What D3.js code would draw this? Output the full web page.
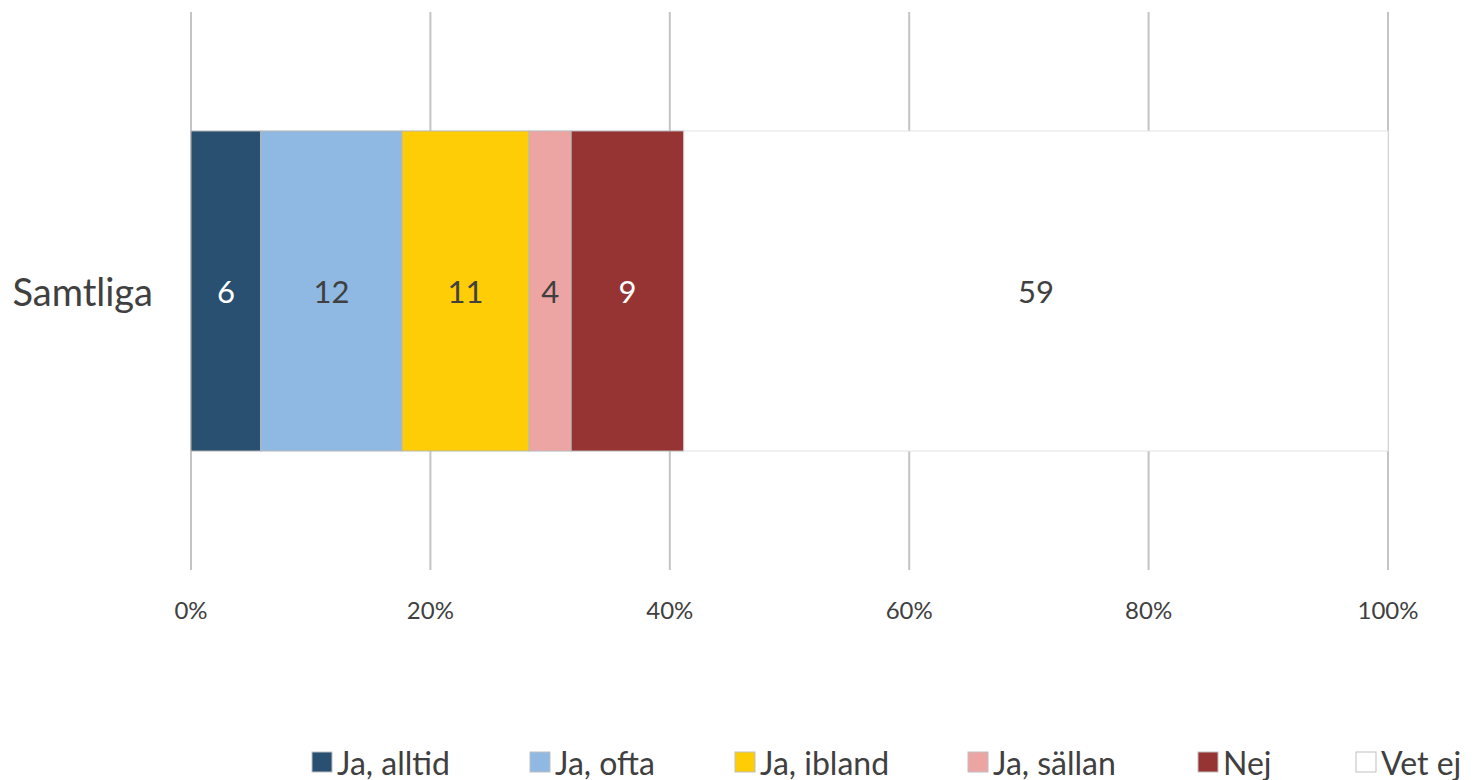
<!DOCTYPE html>
<html>
<head>
<meta charset="utf-8">
<script src="https://cdn.jsdelivr.net/npm/d3@7"></script>
<style>
  html, body { margin: 0; padding: 0; background: #fff; }
  svg text { font-family: Lato, "Open Sans", sans-serif; fill: #404040; }
</style>
</head>
<body>
<svg id="chart"></svg>
<script>
const categories = ["Samtliga"];
const seriesNames = ["Ja, alltid", "Ja, ofta", "Ja, ibland", "Ja, sällan", "Nej", "Vet ej"];
const seriesValues = [5.83, 11.8, 10.62, 3.51, 9.42, 58.82];
const seriesColors = ["#294f71", "#8fb9e3", "#fecd05", "#eca5a3", "#963333", "#ffffff"];
const labelColors = ["#ffffff", "#404040", "#404040", "#404040", "#ffffff", "#404040"];
const tickValues = [0, 20, 40, 60, 80, 100];

const width = 1476;
const height = 780;

const svg = d3.select("#chart")
  .attr("width", width)
  .attr("height", height);

const x = d3.scaleLinear().domain([0, 100]).range([191, 1388]);
const y = d3.scaleBand().domain(categories).range([12, 570]).padding(0.271);

// gridlines
svg.append("g")
  .selectAll("line")
  .data(tickValues)
  .join("line")
  .attr("x1", d => x(d))
  .attr("x2", d => x(d))
  .attr("y1", 12)
  .attr("y2", 570)
  .attr("stroke", "#c4c4c4")
  .attr("stroke-width", 2);

// stacked segments
let acc = 0;
const segments = seriesValues.map((v, i) => {
  const s = { name: seriesNames[i], value: v, x0: acc, x1: acc + v, i };
  acc += v;
  return s;
});

const bar = svg.append("g");

bar.selectAll("rect")
  .data(segments)
  .join("rect")
  .attr("x", d => x(d.x0))
  .attr("y", y("Samtliga"))
  .attr("width", d => x(d.x1) - x(d.x0))
  .attr("height", y.bandwidth())
  .attr("fill", d => seriesColors[d.i])
  .attr("stroke", d => d.i === 5 ? "#e3e3e3" : "#b8b8b8")
  .attr("stroke-width", 1);

bar.selectAll("text")
  .data(segments)
  .join("text")
  .attr("x", d => (x(d.x0) + x(d.x1)) / 2)
  .attr("y", y("Samtliga") + y.bandwidth() / 2)
  .attr("text-anchor", "middle")
  .attr("dominant-baseline", "central")
  .style("font-size", "31px")
  .style("fill", d => labelColors[d.i])
  .text(d => Math.round(d.value));

// category label
svg.append("text")
  .attr("x", 153)
  .attr("y", y("Samtliga") + y.bandwidth() / 2)
  .attr("text-anchor", "end")
  .attr("dominant-baseline", "central")
  .style("font-size", "38px")
  .text("Samtliga");

// x axis labels
svg.append("g")
  .selectAll("text")
  .data(tickValues)
  .join("text")
  .attr("x", d => x(d))
  .attr("y", 609)
  .attr("text-anchor", "middle")
  .attr("dominant-baseline", "central")
  .style("font-size", "24px")
  .text(d => d + "%");

// legend
const legendX = [312, 530, 735, 968, 1198, 1356];
const legend = svg.append("g")
  .selectAll("g")
  .data(seriesNames)
  .join("g")
  .attr("transform", (d, i) => `translate(${legendX[i]},762)`);

legend.append("rect")
  .attr("x", 0)
  .attr("y", -10)
  .attr("width", 20)
  .attr("height", 20)
  .attr("fill", (d, i) => seriesColors[i])
  .attr("stroke", "#bfbfbf")
  .attr("stroke-width", 1);

legend.append("text")
  .attr("x", 25)
  .attr("y", 0)
  .attr("dominant-baseline", "central")
  .style("font-size", "32px")
  .text(d => d);
</script>
</body>
</html>
